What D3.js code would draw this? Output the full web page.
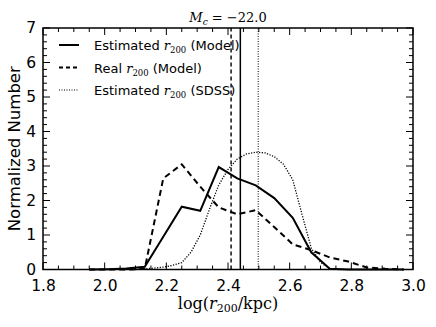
<!DOCTYPE html>
<html><head><meta charset="utf-8">
<script src="https://cdn.jsdelivr.net/npm/d3@7"></script>
<style>body{margin:0;background:#fff}</style>
</head><body>
<script>
const binsModel = [1.95,2.01,2.07,2.13,2.19,2.25,2.31,2.37,2.43,2.49,2.55,2.61,2.67,2.73,2.79,2.85,2.91,2.97];
const estModel  = [0,0.01,0.03,0.08,0.95,1.82,1.7,2.97,2.64,2.44,2.07,1.5,0.5,0.02,0,0,0,0];
const realModel = [0,0,0,0.02,2.64,3.05,2.4,1.8,1.6,1.72,1.23,0.73,0.56,0.35,0.23,0.06,0.02,0];
const binsSDSS  = [2.10,2.13,2.16,2.19,2.22,2.25,2.28,2.31,2.34,2.37,2.40,2.43,2.46,2.49,2.52,2.55,2.58,2.61,2.64,2.67,2.70,2.73,2.76];
const estSDSS   = [0,0.02,0.04,0.07,0.12,0.2,0.5,1.0,1.75,2.45,2.9,3.2,3.35,3.4,3.38,3.27,3.05,2.6,1.6,0.62,0.2,0.03,0];
const medians = [{x:2.44, dash:null, w:1.5},{x:2.41, dash:"4,3", w:1.4},{x:2.498, dash:"1,1.5", w:1}];
const xTicks = [1.8,2.0,2.2,2.4,2.6,2.8,3.0];
const yTicks = [0,1,2,3,4,5,6,7];

const W=436,H=327, L=43, R=413, T=28, B=269.5;
const svg = d3.select("body").append("svg").attr("width",W).attr("height",H);
const x = d3.scaleLinear().domain([1.8,3.0]).range([L,R]);
const y = d3.scaleLinear().domain([0,7]).range([B,T]);

const g = svg.append("g");
const line = d3.line().x(d=>x(d[0])).y(d=>y(d[1]));
g.append("path").datum(binsSDSS.map((b,i)=>[b,estSDSS[i]])).attr("d",line)
  .attr("fill","none").attr("stroke","#000").attr("stroke-width",1.3).attr("stroke-dasharray","1.2,1.5");
g.append("path").datum(binsModel.map((b,i)=>[b,realModel[i]])).attr("d",line)
  .attr("fill","none").attr("stroke","#000").attr("stroke-width",2).attr("stroke-dasharray","6,4");
g.append("path").datum(binsModel.map((b,i)=>[b,estModel[i]])).attr("d",line)
  .attr("fill","none").attr("stroke","#000").attr("stroke-width",2);
medians.forEach(m=>{
  g.append("line").attr("x1",x(m.x)).attr("x2",x(m.x)).attr("y1",y(0)).attr("y2",y(7))
   .attr("stroke","#000").attr("stroke-width",m.w).attr("stroke-dasharray",m.dash);
});

const tk = svg.append("g").attr("stroke","#000").attr("stroke-width",1);
const xMinor = d3.range(1.8,3.0001,0.05);
const yMinor = d3.range(0,7.0001,0.2);
xMinor.forEach(v=>{
  const major = xTicks.some(t=>Math.abs(t-v)<1e-6); const len = major?7:4;
  tk.append("line").attr("x1",x(v)).attr("x2",x(v)).attr("y1",B).attr("y2",B-len);
  tk.append("line").attr("x1",x(v)).attr("x2",x(v)).attr("y1",T).attr("y2",T+len);
});
yMinor.forEach(v=>{
  const major = yTicks.some(t=>Math.abs(t-v)<1e-6); const len = major?7:4;
  tk.append("line").attr("x1",L).attr("x2",L+len).attr("y1",y(v)).attr("y2",y(v));
  tk.append("line").attr("x1",R).attr("x2",R-len).attr("y1",y(v)).attr("y2",y(v));
});
svg.append("rect").attr("x",L).attr("y",T).attr("width",R-L).attr("height",B-T)
  .attr("fill","none").attr("stroke","#000").attr("stroke-width",1.5);

const xa = svg.append("g").attr("transform",`translate(0,${B})`)
  .call(d3.axisBottom(x).tickValues(xTicks).tickFormat(d3.format(".1f")).tickSize(0).tickPadding(10));
const ya = svg.append("g").attr("transform",`translate(${L},0)`)
  .call(d3.axisLeft(y).tickValues(yTicks).tickFormat(d3.format("d")).tickSize(0).tickPadding(7));
[xa,ya].forEach(a=>{a.select(".domain").remove();
  a.selectAll("text").attr("font-family","DejaVu Sans").attr("font-size","15.5px").attr("fill","#000");});

svg.append("text").attr("transform",`translate(20,${(T+B)/2}) rotate(-90)`)
  .attr("text-anchor","middle").attr("font-family","DejaVu Sans").attr("font-size","16.5px").text("Normalized Number");
const xl = svg.append("text").attr("x",228).attr("y",309).attr("text-anchor","middle")
  .attr("font-family","DejaVu Serif").attr("font-size","16px");
xl.append("tspan").text("log(");
xl.append("tspan").attr("font-style","italic").text("r");
xl.append("tspan").attr("font-size","11px").attr("dy",3).text("200");
xl.append("tspan").attr("dy",-3).text("/kpc)");

const tt = svg.append("text").attr("x",228).attr("y",22).attr("text-anchor","middle")
  .attr("font-family","DejaVu Serif").attr("font-size","13px");
tt.append("tspan").attr("font-style","italic").text("M");
tt.append("tspan").attr("font-style","italic").attr("font-size","9px").attr("dy",3).text("c");
tt.append("tspan").attr("dy",-3).text(" = −22.0");

const legend = [
  {pre:"Estimated ", post:" (Model)", dash:null, w:2},
  {pre:"Real ", post:" (Model)", dash:"4,3", w:2},
  {pre:"Estimated ", post:" (SDSS)", dash:"1,1.5", w:1.2}
];
legend.forEach((d,i)=>{
  const yy = 45 + i*22.5;
  svg.append("line").attr("x1",59).attr("x2",79).attr("y1",yy).attr("y2",yy)
    .attr("stroke","#000").attr("stroke-width",d.w).attr("stroke-dasharray",d.dash);
  const t = svg.append("text").attr("x",94).attr("y",yy+5).attr("font-family","DejaVu Sans").attr("font-size","13px");
  t.append("tspan").text(d.pre);
  t.append("tspan").attr("font-family","DejaVu Serif").attr("font-style","italic").text("r");
  t.append("tspan").attr("font-family","DejaVu Serif").attr("font-size","8.5px").attr("dy",3).text("200");
  t.append("tspan").attr("dy",-3).text(d.post);
});
</script>
</body></html>
